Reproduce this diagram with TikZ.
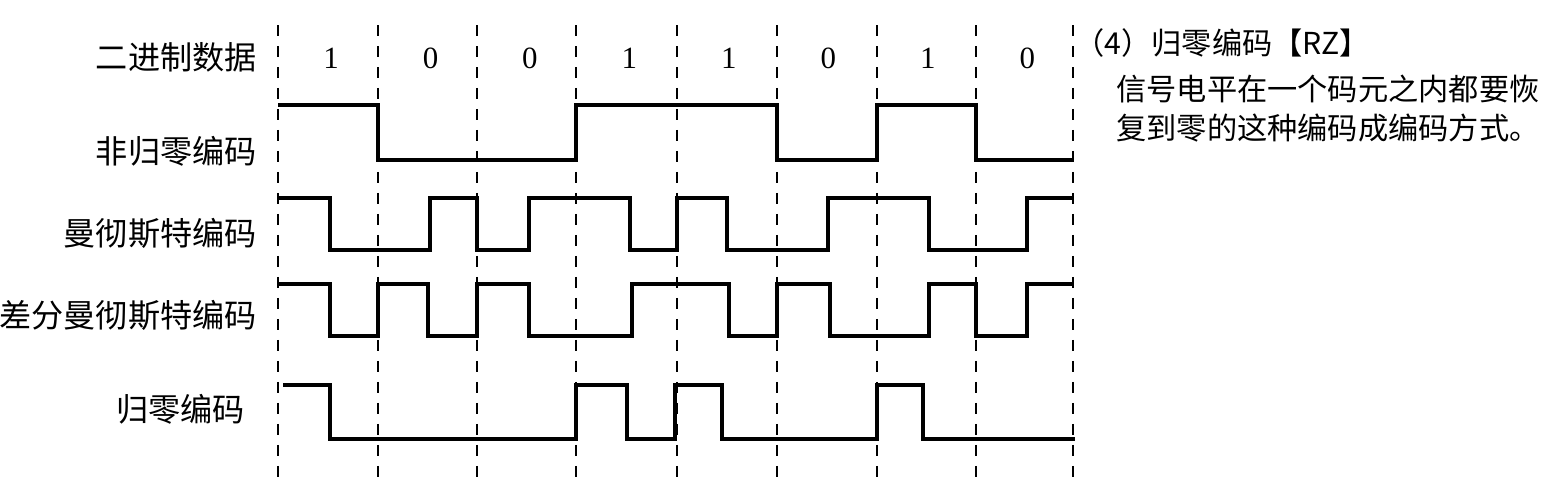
\documentclass[tikz,border=0pt]{standalone}
\usepackage{fontspec}
\newfontfamily\cjk{Noto Sans CJK SC}
\newfontfamily\digitfont{Liberation Serif}
\usepackage{tikz}
\tikzset{node distance=1.99cm, auto}
\tikzset{
  sig/.style={line width=0.08cm},
  grid/.style={line width=0.04cm, dash pattern=on 0.22cm off 0.2cm},
  lab/.style={anchor=east, inner sep=0pt, font=\cjk\fontsize{18.3}{22}\selectfont},
  note/.style={anchor=west, inner sep=0pt, font=\cjk\fontsize{17.2}{20}\selectfont},
  bit/.style={inner sep=0pt, font=\digitfont\fontsize{17.6}{20}\selectfont}
}

\begin{document}
\begin{tikzpicture}[x=0.02cm, y=-0.02cm]
  \useasboundingbox (0,0) rectangle (1568,485);
  % bit boundaries
  \foreach \x in {278,378,477,576,677,777,877,976,1073}
    \draw[grid] (\x,25) -- (\x,482);

  \node[lab] (BIN) at (257,57) {二进制数据};
  \node[lab] (NRZ) at (257,151) {非归零编码};
  \node[lab] (MAN) at (257,233) {曼彻斯特编码};
  \node[lab] (DMAN) at (257,315) {差分曼彻斯特编码};
  \node[lab] (RZ) at (245,409) {归零编码};

  \node[bit] (D1) at (331,58) {1};
  \node[bit] (D2) [right of=D1] {0};
  \node[bit] (D3) [right of=D2] {0};
  \node[bit] (D4) [right of=D3] {1};
  \node[bit] (D5) [right of=D4] {1};
  \node[bit] (D6) [right of=D5] {0};
  \node[bit] (D7) [right of=D6] {1};
  \node[bit] (D8) [right of=D7] {0};

  % non return to zero
  \draw[sig] (278,105) -- (378,105) -- (378,160) -- (576,160) -- (576,105)
    -- (777,105) -- (777,160) -- (877,160) -- (877,105) -- (976,105)
    -- (976,160) -- (1073,160);
  % manchester
  \draw[sig] (278,198) -- (330,198) -- (330,250) -- (430,250) -- (430,198)
    -- (477,198) -- (477,250) -- (529,250) -- (529,198) -- (630,198)
    -- (630,250) -- (677,250) -- (677,198) -- (727,198) -- (727,250)
    -- (828,250) -- (828,198) -- (929,198) -- (929,250) -- (1027,250)
    -- (1027,198) -- (1073,198);
  % differential manchester
  \draw[sig] (278,284) -- (330,284) -- (330,336) -- (378,336) -- (378,284)
    -- (428,284) -- (428,336) -- (477,336) -- (477,284) -- (529,284)
    -- (529,336) -- (632,336) -- (632,284) -- (729,284) -- (729,336)
    -- (777,336) -- (777,284) -- (830,284) -- (830,336) -- (929,336)
    -- (929,284) -- (976,284) -- (976,336) -- (1027,336) -- (1027,284)
    -- (1073,284);
  % return to zero
  \draw[sig] (283,385) -- (330,385) -- (330,439) -- (576,439) -- (576,385)
    -- (627,385) -- (627,439) -- (675,439) -- (675,385) -- (722,385)
    -- (722,439) -- (877,439) -- (877,385) -- (923,385) -- (923,439)
    -- (1075,439);

  \node[note] (T) at (1074,43) {（4）归零编码【RZ】};
  \node[note] (T1) at (1116,89) {信号电平在一个码元之内都要恢};
  \node[note] (T2) at (1116,128) {复到零的这种编码成编码方式。};
\end{tikzpicture}
\end{document}
